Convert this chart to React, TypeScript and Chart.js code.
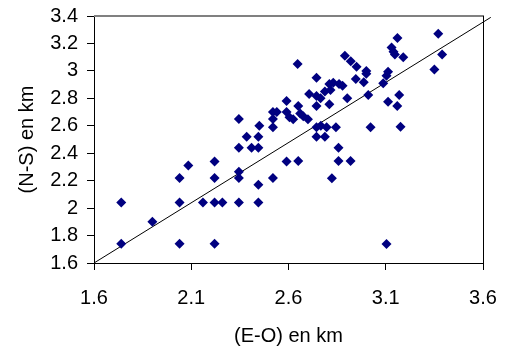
import React, { useEffect, useRef } from "react";
import { Chart, registerables } from "chart.js";

Chart.register(...registerables);

// (E-O) values in km
const eoValues: number[] = [
  1.74, 1.74, 1.90, 2.04, 2.04, 2.04, 2.085, 2.16, 2.22, 2.22,
  2.22, 2.26, 2.22, 2.345, 2.345, 2.345, 2.345, 2.41, 2.445, 2.445,
  2.445, 2.52, 2.59, 2.385, 2.445, 2.345, 2.45, 2.52, 2.54, 2.52,
  2.52, 2.59, 2.59, 2.647, 2.89, 2.92, 2.95, 3.16, 3.13, 3.14,
  3.147, 3.19, 3.37, 3.39, 3.35, 2.744, 3.0, 3.0, 2.946, 2.987,
  3.112, 3.104, 3.087, 2.81, 2.83, 2.86, 2.878, 2.816, 2.787, 2.706,
  2.744, 2.765, 3.01, 3.169, 2.902, 3.112, 3.159, 2.744, 2.81, 2.65,
  2.605, 2.624, 2.66, 2.676, 2.70, 2.744, 2.766, 2.796, 2.844, 3.022,
  3.176, 2.744, 2.787, 2.857, 2.65, 2.857, 2.919, 2.823, 3.104,
];
// (N-S) values in km
const nsValues: number[] = [
  2.04, 1.74, 1.90, 2.22, 2.04, 1.74, 2.31, 2.04, 2.34, 2.22,
  2.04, 2.04, 1.74, 2.44, 2.265, 2.22, 2.04, 2.44, 2.44, 2.17,
  2.04, 2.22, 2.34, 2.52, 2.52, 2.65, 2.60, 2.70, 2.70, 2.65,
  2.59, 2.78, 2.70, 3.05, 3.11, 3.07, 3.03, 3.24, 3.17, 3.14,
  3.12, 3.10, 3.27, 3.12, 3.01, 2.95, 3.0, 2.98, 2.94, 2.917,
  2.994, 2.965, 2.91, 2.905, 2.914, 2.905, 2.892, 2.861, 2.849, 2.832,
  2.817, 2.80, 2.824, 2.824, 2.80, 2.776, 2.744, 2.744, 2.757, 2.744,
  2.662, 2.647, 2.69, 2.67, 2.647, 2.59, 2.60, 2.59, 2.59, 2.59,
  2.593, 2.52, 2.52, 2.44, 2.343, 2.343, 2.343, 2.217, 1.738,
];

// Reference line end points
const lineX: number[] = [1.6, 3.64];
const lineY: number[] = [1.6, 3.39];

const xTickValues: number[] = [1.6, 2.1, 2.6, 3.1, 3.6];
const xTickLabels: string[] = ["1.6", "2.1", "2.6", "3.1", "3.6"];
const yTickValues: number[] = [1.6, 1.8, 2.0, 2.2, 2.4, 2.6, 2.8, 3.0, 3.2, 3.4];
const yTickLabels: string[] = ["1.6", "1.8", "2", "2.2", "2.4", "2.6", "2.8", "3", "3.2", "3.4"];

const xTitle = "(E-O) en km";
const yTitle = "(N-S) en km";

const FONT = "'Liberation Sans', Arial, sans-serif";

const frame = {
  id: "frame",
  afterDatasetsDraw(chart: any) {
    const { ctx, chartArea } = chart;
    const { left, right, top, bottom } = chartArea;
    ctx.save();
    ctx.strokeStyle = "#808080";
    ctx.lineWidth = 2;
    ctx.beginPath();
    ctx.moveTo(left, top);
    ctx.lineTo(right + 1, top);
    ctx.stroke();
    ctx.strokeStyle = "#000000";
    ctx.lineWidth = 1;
    ctx.beginPath();
    ctx.moveTo(Math.round(right) + 0.5, top);
    ctx.lineTo(Math.round(right) + 0.5, bottom);
    ctx.stroke();
    ctx.restore();
  },
};

export default function App() {
  const ref = useRef<HTMLCanvasElement | null>(null);
  useEffect(() => {
    if (!ref.current) return;
    const scatterData = eoValues.map((x, i) => ({ x, y: nsValues[i] }));
    const lineData = lineX.map((x, i) => ({ x, y: lineY[i] }));
    const chart = new Chart(ref.current, {
      type: "scatter",
      data: {
        datasets: [
          {
            type: "line",
            data: lineData,
            borderColor: "#000000",
            borderWidth: 1,
            pointRadius: 0,
            fill: false,
            clip: false,
            order: 2,
          } as any,
          {
            data: scatterData,
            pointStyle: "rectRot",
            pointRadius: 5,
            pointBackgroundColor: "#000080",
            pointBorderColor: "#000080",
            pointBorderWidth: 0,
            order: 1,
          } as any,
        ],
      },
      options: {
        responsive: false,
        animation: false,
        layout: { padding: { left: 0, top: 16, right: 22, bottom: 0 } },
        plugins: {
          legend: { display: false },
          tooltip: { enabled: false },
        },
        scales: {
          x: {
            type: "linear",
            min: 1.6,
            max: 3.6,
            afterBuildTicks: (scale: any) => {
              scale.ticks = xTickValues.map((v) => ({ value: v }));
            },
            afterFit: (scale: any) => {
              scale.height = 86;
              scale.paddingLeft = 0;
              scale.paddingRight = 0;
            },
            grid: {
              drawOnChartArea: false,
              drawTicks: true,
              tickLength: 7,
              tickColor: "#000000",
            },
            border: { display: true, color: "#000000", width: 1 },
            ticks: {
              color: "#000000",
              font: { family: FONT, size: 20 },
              padding: 16,
              maxRotation: 0,
              autoSkip: false,
              callback: (v: any) => {
                const i = xTickValues.findIndex((t) => Math.abs(t - Number(v)) < 1e-6);
                return i >= 0 ? xTickLabels[i] : "";
              },
            },
            title: {
              display: true,
              text: xTitle,
              color: "#000000",
              font: { family: FONT, size: 20 },
              padding: { top: 0, bottom: 1 },
            },
          },
          y: {
            type: "linear",
            min: 1.6,
            max: 3.4,
            afterBuildTicks: (scale: any) => {
              scale.ticks = yTickValues.map((v) => ({ value: v }));
            },
            afterFit: (scale: any) => {
              scale.width = 94;
              scale.paddingTop = 0;
              scale.paddingBottom = 0;
            },
            grid: {
              drawOnChartArea: false,
              drawTicks: true,
              tickLength: 7,
              tickColor: "#000000",
            },
            border: { display: true, color: "#000000", width: 1 },
            ticks: {
              color: "#000000",
              font: { family: FONT, size: 20 },
              padding: 9,
              autoSkip: false,
              callback: (v: any) => {
                const i = yTickValues.findIndex((t) => Math.abs(t - Number(v)) < 1e-6);
                return i >= 0 ? yTickLabels[i] : "";
              },
            },
            title: {
              display: true,
              text: yTitle,
              color: "#000000",
              font: { family: FONT, size: 20 },
              padding: { top: 15, bottom: 0 },
            },
          },
        },
      },
      plugins: [frame],
    });
    return () => chart.destroy();
  }, []);

  return (
    <div style={{ position: "absolute", left: 0, top: 0, width: 505, height: 349, background: "#ffffff" }}>
      <canvas ref={ref} width={505} height={349} />
    </div>
  );
}
